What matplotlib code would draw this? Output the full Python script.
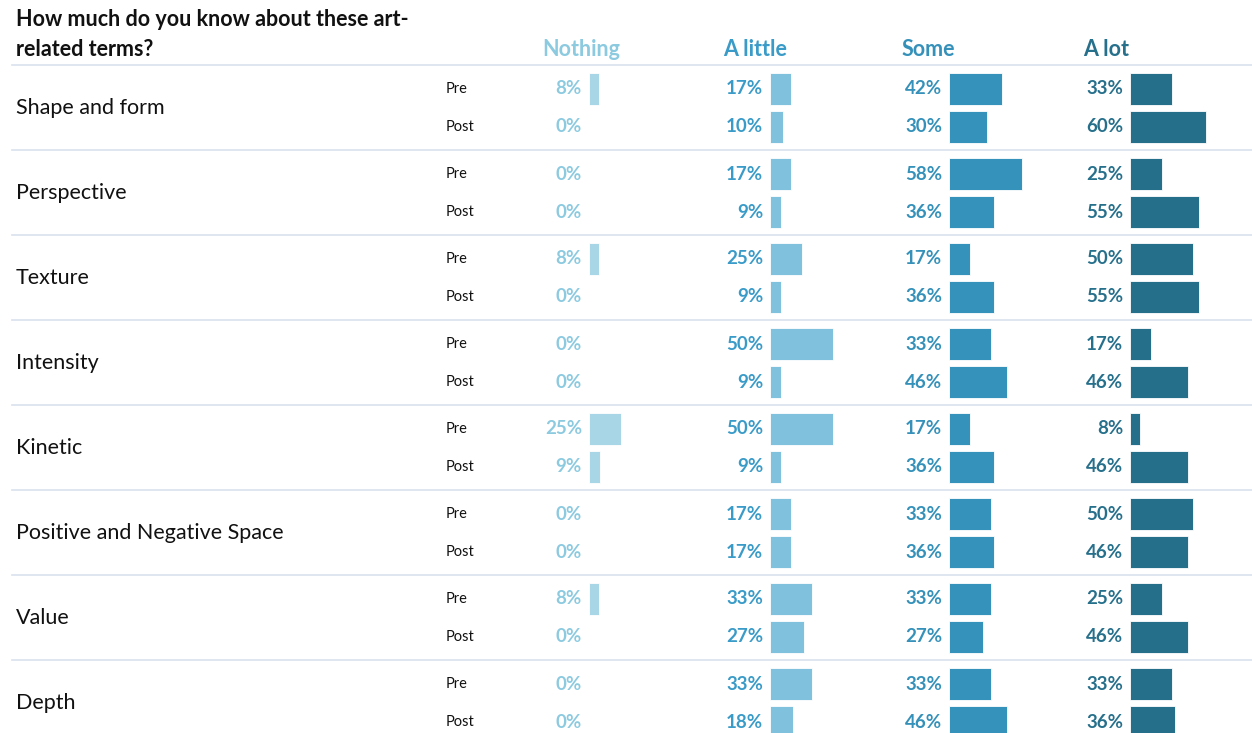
import matplotlib as mpl
mpl.use('Agg')
import matplotlib.pyplot as plt

# data
terms = ['Shape and form', 'Perspective', 'Texture', 'Intensity', 'Kinetic',
         'Positive and Negative Space', 'Value', 'Depth']
levels = ['Nothing', 'A little', 'Some', 'A lot']
nothing_pre = [8, 0, 8, 0, 25, 0, 8, 0]
nothing_post = [0, 0, 0, 0, 9, 0, 0, 0]
little_pre = [17, 17, 25, 50, 50, 17, 33, 33]
little_post = [10, 9, 9, 9, 9, 17, 27, 18]
some_pre = [42, 58, 17, 33, 17, 33, 33, 33]
some_post = [30, 36, 36, 46, 36, 36, 27, 46]
alot_pre = [33, 25, 50, 17, 8, 50, 25, 33]
alot_post = [60, 55, 55, 46, 46, 46, 46, 36]

pre = [nothing_pre, little_pre, some_pre, alot_pre]
post = [nothing_post, little_post, some_post, alot_post]

bar_cols = ['#a8d6e7', '#80c1dd', '#3593bb', '#266f8a']
txt_cols = ['#8ccae0', '#3a9bc8', '#3591b9', '#27708c']

plt.rcParams['font.family'] = ['Lato', 'DejaVu Sans']

W, H = 1252, 733
fig = plt.figure(figsize=(W / 100, H / 100), dpi=100)
ax = fig.add_axes([0, 0, 1, 1])
ax.set_xlim(0, W)
ax.set_ylim(H, 0)
ax.axis('off')

# layout in pixel units
col_x = [589, 770, 949, 1130]
scale = 1.26
grp_step = 85
pre_y0 = 89
row_gap = 38
bar_h = 32

ax.text(16, 20, 'How much do you know about these art-', fontsize=15.5,
        fontweight='bold', color='#111111', va='center')
ax.text(16, 50, 'related terms?', fontsize=15.5, fontweight='bold',
        color='#111111', va='center')
for j, lev in enumerate(levels):
    ax.text(col_x[j] - 47, 50, lev, fontsize=15.5, fontweight='bold',
            color=txt_cols[j], va='center')

for i, term in enumerate(terms):
    y_pre = pre_y0 + grp_step * i
    y_post = y_pre + row_gap
    ax.axhline(y_pre - 24, xmin=12 / W, xmax=1, color='#d9e2ee', lw=1.2)
    ax.text(16, (y_pre + y_post) / 2, term, fontsize=15.5, color='#111111',
            va='center')
    ax.text(446, y_pre, 'Pre', fontsize=10.5, color='#111111', va='center')
    ax.text(446, y_post, 'Post', fontsize=10.5, color='#111111', va='center')
    for j in range(4):
        for vals, y in ((pre[j], y_pre), (post[j], y_post)):
            v = vals[i]
            if v > 0:
                ax.barh(y, v * scale, left=col_x[j], height=bar_h,
                        color=bar_cols[j], edgecolor='white', lw=0.6)
            ax.text(col_x[j] - 7, y, f'{v}%', fontsize=13.5, fontweight='bold',
                    color=txt_cols[j], ha='right', va='center')

fig.savefig('out.png', dpi=100)
